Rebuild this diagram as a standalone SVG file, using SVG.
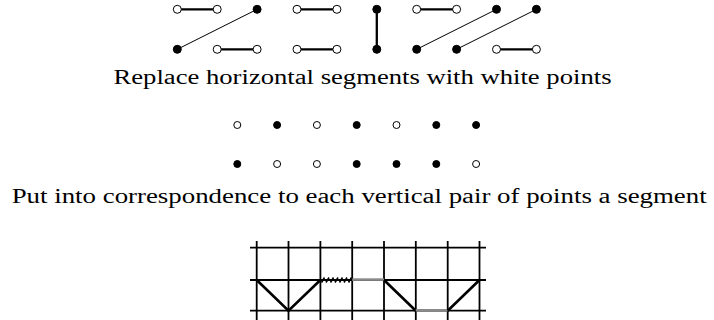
<svg xmlns="http://www.w3.org/2000/svg" width="714" height="320" viewBox="0 0 714 320">
<style>
.w{fill:#fff;stroke:#000;stroke-width:1}
.b{fill:#000;stroke:#000;stroke-width:1}
.thick{stroke:#000;stroke-width:2.3;fill:none}
.thin{stroke:#000;stroke-width:1;fill:none}
.grid{stroke:#000;stroke-width:1.8;fill:none}
.path{stroke:#000;stroke-width:2.6;fill:none;stroke-linejoin:miter}
.gray{stroke:#8a8a8a;stroke-width:2.6;fill:none}
.hatch{stroke:#000;stroke-width:1.6;fill:none}
.t{font-family:"Liberation Serif","DejaVu Serif",serif;font-size:20px;fill:#000}
</style>
<rect width="714" height="320" fill="#fff"/>
<g id="connectors">
<line class="thick" x1="177.3" y1="9.3" x2="217.2" y2="9.3"/>
<line class="thick" x1="217.2" y1="49.3" x2="257.1" y2="49.3"/>
<line class="thin" x1="177.3" y1="49.3" x2="257.1" y2="9.3"/>
<line class="thick" x1="297" y1="9.3" x2="336.9" y2="9.3"/>
<line class="thick" x1="297" y1="49.3" x2="336.9" y2="49.3"/>
<line class="thick" x1="376.8" y1="9.3" x2="376.8" y2="49.3"/>
<line class="thick" x1="416.7" y1="9.3" x2="456.6" y2="9.3"/>
<line class="thin" x1="416.7" y1="49.3" x2="496.5" y2="9.3"/>
<line class="thin" x1="456.6" y1="49.3" x2="536.4" y2="9.3"/>
<line class="thick" x1="496.5" y1="49.3" x2="536.4" y2="49.3"/>
</g>
<g id="top-points">
<circle id="p-t0" class="w" cx="177.3" cy="9.3" r="4"/>
<circle id="p-t1" class="w" cx="217.2" cy="9.3" r="4"/>
<circle id="p-t2" class="b" cx="257.1" cy="9.3" r="4"/>
<circle id="p-t3" class="w" cx="297" cy="9.3" r="4"/>
<circle id="p-t4" class="w" cx="336.9" cy="9.3" r="4"/>
<circle id="p-t5" class="b" cx="376.8" cy="9.3" r="4"/>
<circle id="p-t6" class="w" cx="416.7" cy="9.3" r="4"/>
<circle id="p-t7" class="w" cx="456.6" cy="9.3" r="4"/>
<circle id="p-t8" class="b" cx="496.5" cy="9.3" r="4"/>
<circle id="p-t9" class="b" cx="536.4" cy="9.3" r="4"/>
<circle id="p-b0" class="b" cx="177.3" cy="49.3" r="4"/>
<circle id="p-b1" class="w" cx="217.2" cy="49.3" r="4"/>
<circle id="p-b2" class="w" cx="257.1" cy="49.3" r="4"/>
<circle id="p-b3" class="w" cx="297" cy="49.3" r="4"/>
<circle id="p-b4" class="w" cx="336.9" cy="49.3" r="4"/>
<circle id="p-b5" class="b" cx="376.8" cy="49.3" r="4"/>
<circle id="p-b6" class="b" cx="416.7" cy="49.3" r="4"/>
<circle id="p-b7" class="b" cx="456.6" cy="49.3" r="4"/>
<circle id="p-b8" class="w" cx="496.5" cy="49.3" r="4"/>
<circle id="p-b9" class="w" cx="536.4" cy="49.3" r="4"/>
</g>
<text class="t" x="113.5" y="84" textLength="498" lengthAdjust="spacingAndGlyphs">Replace horizontal segments with white points</text>
<g id="middle-points">
<circle class="w" cx="237.3" cy="125" r="3.5"/>
<circle class="b" cx="277.1" cy="125" r="3.5"/>
<circle class="w" cx="316.9" cy="125" r="3.5"/>
<circle class="b" cx="356.7" cy="125" r="3.5"/>
<circle class="w" cx="396.5" cy="125" r="3.5"/>
<circle class="b" cx="436.3" cy="125" r="3.5"/>
<circle class="b" cx="476.1" cy="125" r="3.5"/>
<circle class="b" cx="237.3" cy="164" r="3.5"/>
<circle class="w" cx="277.1" cy="164" r="3.5"/>
<circle class="w" cx="316.9" cy="164" r="3.5"/>
<circle class="b" cx="356.7" cy="164" r="3.5"/>
<circle class="b" cx="396.5" cy="164" r="3.5"/>
<circle class="b" cx="436.3" cy="164" r="3.5"/>
<circle class="w" cx="476.1" cy="164" r="3.5"/>
</g>
<text class="t" x="11.7" y="203" textLength="695" lengthAdjust="spacingAndGlyphs">Put into correspondence to each vertical pair of points a segment</text>
<g id="grid">
<line class="grid" x1="250" y1="247.7" x2="486" y2="247.7"/>
<line class="grid" x1="250" y1="280" x2="486" y2="280"/>
<line class="grid" x1="250" y1="310.7" x2="486" y2="310.7"/>
<line class="grid" x1="256.7" y1="241" x2="256.7" y2="320"/>
<line class="grid" x1="288.5" y1="241" x2="288.5" y2="320"/>
<line class="grid" x1="320.4" y1="241" x2="320.4" y2="320"/>
<line class="grid" x1="352.2" y1="241" x2="352.2" y2="320"/>
<line class="grid" x1="384" y1="241" x2="384" y2="320"/>
<line class="grid" x1="415.8" y1="241" x2="415.8" y2="320"/>
<line class="grid" x1="447.7" y1="241" x2="447.7" y2="320"/>
<line class="grid" x1="479.5" y1="241" x2="479.5" y2="320"/>
</g>
<g id="lattice-path">
<polyline class="path" points="256.7,280 288.5,310.7 320.4,280"/>
<line class="gray" x1="352.2" y1="279.6" x2="384" y2="279.6"/>
<line class="path" x1="384" y1="280" x2="415.8" y2="310.7"/>
<line class="gray" x1="415.8" y1="310.3" x2="447.7" y2="310.3"/>
<line class="path" x1="447.7" y1="310.7" x2="479.5" y2="280"/>
<path class="hatch" d="M321.5,282.5 L324.5,277.5 M326,282.5 L329,277.5 M330.5,282.5 L333.5,277.5 M335,282.5 L338,277.5 M339.5,282.5 L342.5,277.5 M344,282.5 L347,277.5 M348.5,282.5 L351.5,277.5"/>
</g>
</svg>
